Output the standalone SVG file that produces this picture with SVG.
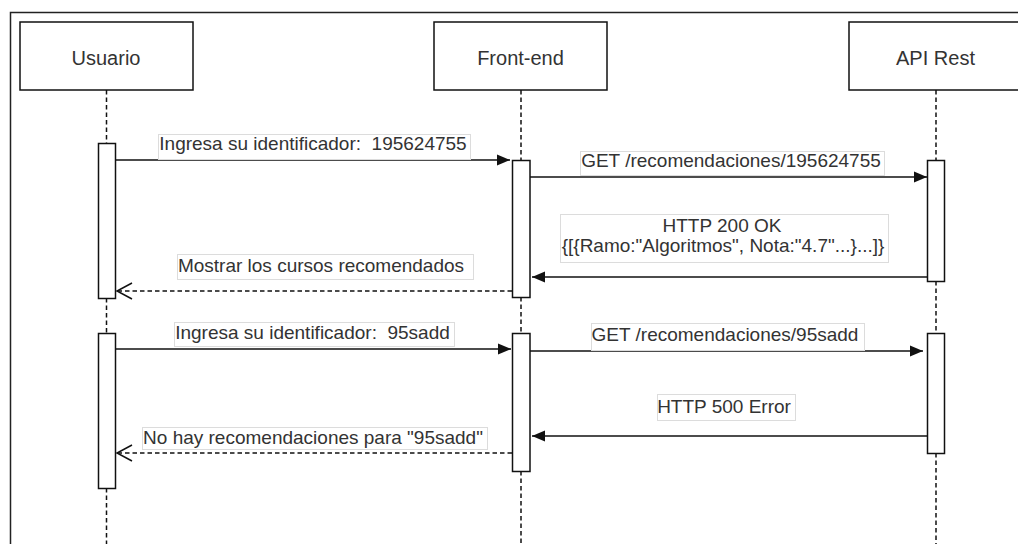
<svg xmlns="http://www.w3.org/2000/svg" width="1018" height="544" viewBox="0 0 1018 544">
  <style>
    .frame { fill: none; stroke: #222; stroke-width: 1.5; }
    .actor { fill: #fff; stroke: #111; stroke-width: 1.5; }
    .life { fill: none; stroke: #111; stroke-width: 1.5; stroke-dasharray: 4.5 3; }
    .act { fill: #fff; stroke: #111; stroke-width: 1.5; }
    .msg { fill: none; stroke: #111; stroke-width: 1.5; }
    .ret { fill: none; stroke: #111; stroke-width: 1.5; stroke-dasharray: 4.5 3; }
    .lbl { fill: #fff; stroke: #dcdcdc; stroke-width: 1; }
    text { font-family: "Liberation Sans", Arial, sans-serif; fill: #333; text-anchor: middle; }
    .an { font-size: 20px; }
    .mt { font-size: 19px; }
  </style>
  <defs>
    <marker id="block" markerUnits="userSpaceOnUse" markerWidth="14" markerHeight="12" refX="13" refY="6" orient="auto">
      <path d="M0,0.5 L13,6 L0,11.5 Z" fill="#111"/>
    </marker>
    <marker id="open" markerUnits="userSpaceOnUse" markerWidth="18" markerHeight="20" refX="16" refY="9" orient="auto">
      <path d="M1,1 L16,9 L1,17" fill="none" stroke="#111" stroke-width="1.5"/>
    </marker>
  </defs>

  <!-- outer frame -->
  <path class="frame" d="M10.5,544 V12.5 H1018"/>

  <!-- participants with lifelines and activation bars -->
  <g id="usuario">
    <rect class="actor" x="20" y="22" width="173" height="68"/>
    <text class="an" x="106" y="65">Usuario</text>
    <path class="life" d="M106.5,90 V143 M106.5,298 V333 M106.5,488 V544"/>
    <rect class="act" x="98.5" y="143.5" width="17" height="155"/>
    <rect class="act" x="98.5" y="333.5" width="17" height="155"/>
  </g>

  <g id="frontend">
    <rect class="actor" x="434" y="22" width="173" height="68"/>
    <text class="an" x="520.5" y="65">Front-end</text>
    <path class="life" d="M521,90 V160 M521,297 V333 M521,471 V544"/>
    <rect class="act" x="512.5" y="160.5" width="17.5" height="137"/>
    <rect class="act" x="512.5" y="333.5" width="17.5" height="138"/>
  </g>

  <g id="apirest">
    <rect class="actor" x="849" y="22" width="174" height="68"/>
    <text class="an" x="935.5" y="65">API Rest</text>
    <path class="life" d="M936,90 V160 M936,281 V333 M936,453 V544"/>
    <rect class="act" x="927.5" y="160.5" width="17" height="121"/>
    <rect class="act" x="927.5" y="333.5" width="17" height="120"/>
  </g>

  <!-- messages -->
  <g id="connectors">
    <path class="msg" d="M115,160 H510" marker-end="url(#block)"/>
    <path class="msg" d="M530,177 H927" marker-end="url(#block)"/>
    <path class="msg" d="M927,277 H532" marker-end="url(#block)"/>
    <path class="ret" d="M512,291 H117" marker-end="url(#open)"/>
    <path class="msg" d="M115,349 H511" marker-end="url(#block)"/>
    <path class="msg" d="M530,351 H923" marker-end="url(#block)"/>
    <path class="msg" d="M928,436 H532" marker-end="url(#block)"/>
    <path class="ret" d="M512,453 H117" marker-end="url(#open)"/>
  </g>

  <!-- message labels -->
  <g id="labels">
    <rect class="lbl" x="158.5" y="134.5" width="312" height="25"/>
    <text class="mt" x="313" y="150" xml:space="preserve">Ingresa su identificador:  195624755</text>

    <rect class="lbl" x="580.5" y="151.5" width="304" height="24"/>
    <text class="mt" x="731" y="167">GET /recomendaciones/195624755</text>

    <rect class="lbl" x="560.5" y="214.5" width="328" height="48"/>
    <text class="mt" x="722" y="232">HTTP 200 OK</text>
    <text class="mt" x="723" y="252">{[{Ramo:"Algoritmos", Nota:"4.7"...}...]}</text>

    <rect class="lbl" x="177.5" y="254.5" width="296" height="25"/>
    <text class="mt" x="321" y="272">Mostrar los cursos recomendados</text>

    <rect class="lbl" x="174.5" y="322.5" width="280" height="24"/>
    <text class="mt" x="312.5" y="339" xml:space="preserve">Ingresa su identificador:  95sadd</text>

    <rect class="lbl" x="591.5" y="323.5" width="273" height="27"/>
    <text class="mt" x="725" y="341">GET /recomendaciones/95sadd</text>

    <rect class="lbl" x="657.5" y="394.5" width="138" height="26"/>
    <text class="mt" x="724" y="413">HTTP 500 Error</text>

    <rect class="lbl" x="142.5" y="427.5" width="345" height="22"/>
    <text class="mt" x="313" y="444">No hay recomendaciones para "95sadd"</text>
  </g>
</svg>
